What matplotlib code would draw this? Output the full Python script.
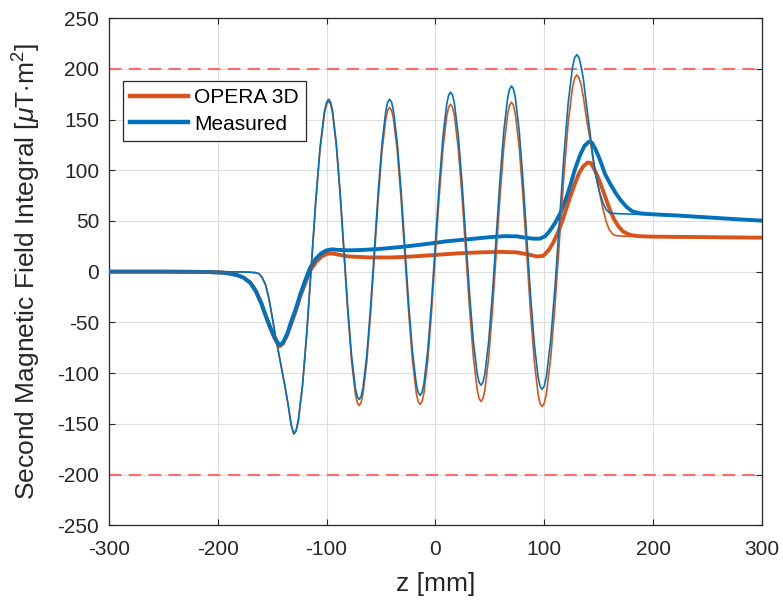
import matplotlib
matplotlib.use("Agg")
import matplotlib.pyplot as plt

plt.rcParams["font.family"] = ["Liberation Sans", "DejaVu Sans"]
plt.rcParams["mathtext.fontset"] = "custom"
plt.rcParams["mathtext.rm"] = "Liberation Sans"
plt.rcParams["mathtext.it"] = "Liberation Sans:italic"
plt.rcParams["axes.unicode_minus"] = False

# thin curves (oscillating)
z_thin = [-300, -250, -200, -180, -170, -165, -162, -159, -156, -153, -150, -147, -144, -141, -138, -135, -132.5,
          -130, -128, -126, -122, -118, -114, -110, -106, -102, -100,
          -98, -96.25, -94.5, -91, -87.5, -84, -80.5, -77, -73.5, -71.75,
          -70, -68.25, -66.5, -63, -59.5, -56, -52.5, -49, -45.5, -43.75,
          -42, -40.25, -38.5, -35, -31.5, -28, -24.5, -21, -17.5, -15.75,
          -14, -12.25, -10.5, -7, -3.5, 0, 3.5, 7, 10.5, 12.25,
          14, 15.75, 17.5, 21, 24.5, 28, 31.5, 35, 38.5, 40.25,
          42, 43.75, 45.5, 49, 52.5, 56, 59.5, 63, 66.5, 68.25,
          70, 71.75, 73.5, 77, 80.5, 84, 87.5, 91, 94.5, 96.25,
          98, 100, 102, 106, 110, 114, 118, 122, 126, 128,
          130, 132, 134, 136, 139, 142, 145, 148, 151, 154, 157, 160, 163, 166, 172, 200, 250, 300]

opera_thin = [0, 0, 0, -0.3, -0.6, -1, -2, -6, -13, -26, -44, -63, -80, -97, -114, -133, -151,
              -160, -156.9, -147.5, -112, -58.8, 4, 66.8, 120, 155.5, 164.9,
              168, 165.2, 156.6, 124, 75.5, 18, -39.5, -88, -120.6, -129.2,
              -132, -129.2, -120.8, -89, -41.3, 15, 71.3, 119, 150.8, 159.2,
              162, 159.2, 150.9, 119.1, 71.6, 15.5, -40.6, -88.1, -119.9, -128.2,
              -131, -128.2, -119.8, -87.6, -39.7, 17, 73.7, 121.6, 153.8, 162.2,
              165, 162.2, 153.9, 122.1, 74.6, 18.5, -37.6, -85.1, -116.9, -125.2,
              -128, -125.2, -116.8, -84.8, -37, 19.5, 76, 123.8, 155.8, 164.2,
              167, 164.2, 155.6, 123.1, 74.5, 17, -40.5, -89.1, -121.6, -130.2,
              -133, -129.9, -120.6, -85.1, -32.1, 30.5, 93.1, 146.1, 181.6, 190.9,
              194, 191, 184, 172, 150, 131, 110, 92, 77, 62, 49, 41, 37, 35.5, 35, 34.5, 34, 33.5]

meas_thin = [0, 0, 0, -0.3, -0.6, -1, -2, -6, -13, -26, -44, -63, -80, -97, -114, -133, -151,
             -160, -156.9, -147.5, -111.7, -58.2, 5, 68.2, 121.7, 157.5, 166.9,
             170, 167.2, 158.8, 126.6, 78.7, 22, -34.7, -82.6, -114.8, -123.2,
             -126, -123.2, -114.8, -82.6, -34.7, 22, 78.7, 126.6, 158.8, 167.2,
             170, 167.2, 158.9, 127.2, 79.9, 24, -31.9, -79.2, -110.9, -119.2,
             -122, -119.2, -110.6, -78.2, -29.8, 27.5, 84.8, 133.2, 165.6, 174.2,
             177, 174.3, 166, 134.7, 87.8, 32.5, -22.8, -69.7, -101, -109.3,
             -112, -109.2, -100.8, -68.8, -21, 35.5, 92, 139.8, 171.8, 180.2,
             183, 180.2, 171.6, 139.2, 90.8, 33.5, -23.8, -72.2, -104.6, -113.2,
             -116, -112.9, -103.5, -67.7, -14.2, 49, 112.2, 165.7, 201.5, 210.9,
             214, 211, 202, 190, 163, 138, 112, 92, 78, 68, 61, 58, 57.5, 57.3, 57, 56, 53.5, 50.3]

# thick curves (smooth)
z_opera = [-300, -250, -210, -195, -188, -182, -176, -170, -165, -160,
           -156, -152, -148, -145, -143, -140, -136, -133, -128, -124,
           -119, -115, -110, -105, -100, -95, -90, -80, -60, -40,
           -20, 0, 20, 40, 60, 75, 85, 93, 99, 104,
           108, 112, 116, 120, 124, 128, 132, 136, 140, 143,
           146, 149, 152, 156, 160, 164, 168, 172, 176, 180,
           186, 200, 250, 300]
opera = [0, 0, -0.3, -1, -2, -3.5, -6, -11, -19, -31,
         -43, -55, -65, -71, -73.5, -71, -62, -53, -38, -24,
         -10, 1, 9, 14.5, 17.5, 18, 17, 15, 14, 14,
         15, 16.5, 18, 19, 19.5, 19, 17, 15, 15.5, 21,
         28, 37, 48, 61, 74, 86, 97, 104, 107.5, 107,
         101, 94, 86, 74, 62, 52, 45, 40, 37.5, 36,
         35, 34.5, 34, 33.5]

z_meas = [-300, -250, -210, -195, -188, -182, -176, -170, -165, -160,
          -156, -152, -148, -145, -143, -140, -136, -133, -128, -124,
          -119, -115, -110, -105, -100, -95, -90, -80, -69, -50,
          -29, -10, 11, 31, 50, 63, 75, 83, 90, 96,
          101, 105, 110, 115, 120, 124, 128, 133, 137, 141,
          144, 147, 151, 156, 161, 166, 171, 176, 181, 188,
          200, 220, 250, 280, 300]
meas = [0, 0, -0.3, -1, -2, -3.5, -6, -11, -19, -31,
        -43, -54, -64, -70, -72, -70, -61, -51, -36, -22,
        -7, 4, 12.5, 18, 21, 22, 21.5, 21, 21.3, 22.5,
        24.6, 27, 30, 32, 34, 35, 34.8, 33.4, 32.5, 32.5,
        35, 40, 48, 58, 72, 85, 100, 115, 124, 128,
        127, 121, 111, 96, 86, 77, 69.5, 63.5, 59.5, 57.5,
        56.5, 55.5, 53.5, 51.5, 50.3]

limits = [200, -200]

c_orange = "#D95319"
c_blue = "#0072BD"

fig = plt.figure(figsize=(7.83, 6.03), dpi=100)
ax = fig.add_axes([0.139, 0.129, 0.834, 0.841])

for lim in limits:
    ax.axhline(lim, color="#FF6B6B", linestyle=(0, (6, 3.5)), linewidth=1.5, zorder=1)

ax.plot(z_opera, opera, color=c_orange, linewidth=2.8, label="OPERA 3D", zorder=3)
ax.plot(z_meas, meas, color=c_blue, linewidth=2.8, label="Measured", zorder=4)
ax.plot(z_thin, opera_thin, color=c_orange, linewidth=1.2, zorder=5)
ax.plot(z_thin, meas_thin, color=c_blue, linewidth=1.2, zorder=6)

ax.set_xlim(-300, 300)
ax.set_ylim(-250, 250)
ax.set_xticks(range(-300, 301, 100))
ax.set_yticks(range(-250, 251, 50))
ax.grid(True, color="#DEDEDE", linewidth=0.8)
ax.set_axisbelow(True)

ax.tick_params(direction="in", top=True, right=True, length=4, width=0.8,
               labelsize=15, colors="#262626")
ax.tick_params(axis="x", pad=11)
ax.tick_params(axis="y", pad=7)
for s in ax.spines.values():
    s.set_color("#262626")
    s.set_linewidth(0.9)

ax.set_xlabel("z [mm]", fontsize=19, color="#262626", labelpad=9)
ax.set_ylabel(r"Second Magnetic Field Integral [$\mu$T$\cdot$m$^2$]", fontsize=19,
              color="#262626", labelpad=10)

leg = ax.legend(loc="upper left", bbox_to_anchor=(0.021, 0.876), fontsize=15,
                handlelength=2.8, fancybox=False, framealpha=1, borderpad=0.35,
                labelspacing=0.35, handletextpad=0.3, borderaxespad=0)
leg.get_frame().set_edgecolor("#262626")
leg.get_frame().set_linewidth(0.9)
for h in leg.get_lines():
    h.set_linewidth(3.2)

fig.savefig("out.png", dpi=100)
